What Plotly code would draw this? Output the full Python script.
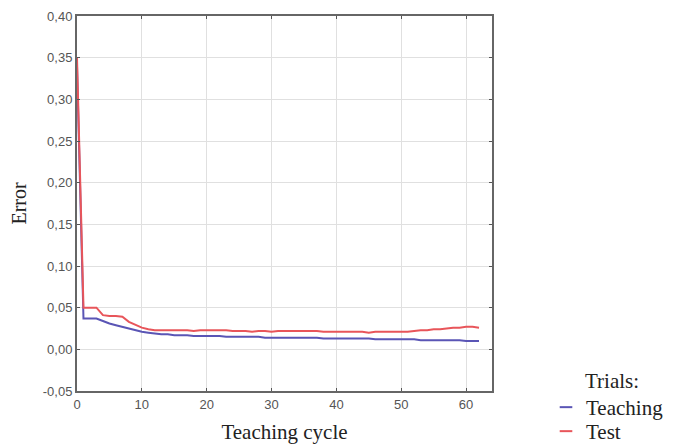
import plotly.graph_objects as go

cycles = list(range(0, 63))
teaching = [0.34, 0.037, 0.037, 0.037, 0.034, 0.031, 0.029, 0.027, 0.025, 0.023,
            0.021, 0.020, 0.019, 0.018, 0.018, 0.017, 0.017, 0.017, 0.016, 0.016,
            0.016, 0.016, 0.016, 0.015, 0.015, 0.015, 0.015, 0.015, 0.015, 0.014,
            0.014, 0.014, 0.014, 0.014, 0.014, 0.014, 0.014, 0.014, 0.013, 0.013,
            0.013, 0.013, 0.013, 0.013, 0.013, 0.013, 0.012, 0.012, 0.012, 0.012,
            0.012, 0.012, 0.012, 0.011, 0.011, 0.011, 0.011, 0.011, 0.011, 0.011,
            0.010, 0.010, 0.010]
test = [0.35, 0.050, 0.050, 0.050, 0.041, 0.040, 0.040, 0.039, 0.033, 0.029,
        0.026, 0.024, 0.023, 0.023, 0.023, 0.023, 0.023, 0.023, 0.022, 0.023,
        0.023, 0.023, 0.023, 0.023, 0.022, 0.022, 0.022, 0.021, 0.022, 0.022,
        0.021, 0.022, 0.022, 0.022, 0.022, 0.022, 0.022, 0.022, 0.021, 0.021,
        0.021, 0.021, 0.021, 0.021, 0.021, 0.020, 0.021, 0.021, 0.021, 0.021,
        0.021, 0.021, 0.022, 0.023, 0.023, 0.024, 0.024, 0.025, 0.026, 0.026,
        0.027, 0.027, 0.026]
series_names = ["Teaching", "Test"]
colors = ["#5a55b5", "#e8555a"]
legend_ids = ["legend", "legend2"]
x_ticks = [0, 10, 20, 30, 40, 50, 60]
y_ticks = [-0.05, 0.0, 0.05, 0.10, 0.15, 0.20, 0.25, 0.30, 0.35, 0.40]
y_tick_labels = ["-0,05", "0,00", "0,05", "0,10", "0,15", "0,20", "0,25", "0,30", "0,35", "0,40"]

SERIF = "Liberation Serif, Times New Roman, serif"
SANS = "Liberation Sans, Arial, sans-serif"

W, H = 671, 440  # page has an 8px body margin

fig = go.Figure()
for name, vals, col, lg in zip(series_names, [teaching, test], colors, legend_ids):
    fig.add_trace(go.Scatter(x=cycles, y=vals, mode="lines", name=name,
                             line=dict(color=col, width=2),
                             legendgroup=name, showlegend=False))
    fig.add_trace(go.Scatter(x=[None], y=[None], mode="markers", name=name,
                             marker=dict(symbol="line-ew", size=9,
                                         line=dict(color=col, width=2)),
                             legendgroup=name, showlegend=True, legend=lg))

axis_common = dict(showline=True, linecolor="#666", linewidth=2, mirror="ticks",
                   ticks="inside", ticklen=3, tickcolor="#555", tickwidth=1,
                   showgrid=True, gridcolor="#e0e0e0", gridwidth=1, zeroline=False,
                   automargin=False,
                   tickfont=dict(family=SANS, size=13, color="#555"))

legend_common = dict(xref="container", yref="container", x=538 / W, xanchor="left",
                     yanchor="top", font=dict(family=SERIF, size=21, color="#222"),
                     itemwidth=30, tracegroupgap=0, bgcolor="rgba(0,0,0,0)")

fig.update_layout(
    width=W, height=H,
    margin=dict(l=69, r=187, t=8, b=57, autoexpand=False),
    paper_bgcolor="white", plot_bgcolor="white",
    separators=", ",
    xaxis=dict(range=[0, 64], tickvals=x_ticks,
               title=dict(text="Teaching cycle", standoff=14,
                          font=dict(family=SERIF, size=21, color="#222")),
               **axis_common),
    yaxis=dict(range=[-0.05, 0.40], tickvals=y_ticks, ticktext=y_tick_labels,
               title=dict(text="Error", standoff=11,
                          font=dict(family=SERIF, size=20, color="#222")),
               **axis_common),
    legend=dict(y=1 - 379 / H, **legend_common),
    legend2=dict(y=1 - 403 / H, **legend_common),
    annotations=[dict(text="Trials:", xref="paper", yref="paper", x=1.219, y=0.027,
                      xanchor="left", yanchor="middle", showarrow=False,
                      font=dict(family=SERIF, size=21, color="#222"))],
)

fig.write_html("out.html")
